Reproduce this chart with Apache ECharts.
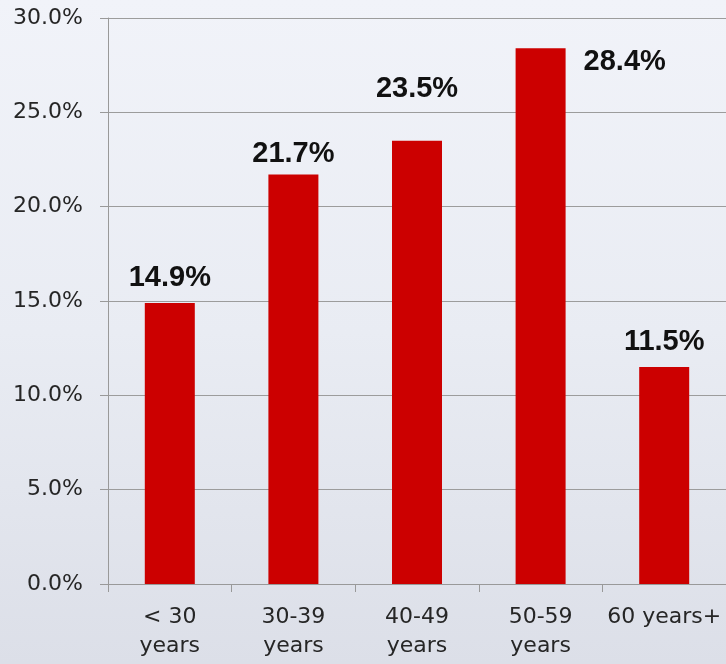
<!DOCTYPE html>
<html>
<head>
<meta charset="utf-8">
<script src="https://cdn.jsdelivr.net/npm/echarts@6/dist/echarts.min.js"></script>
<style>
html,body{margin:0;padding:0;}
#c{width:726px;height:664px;background:linear-gradient(to bottom,#f1f3f9 0%,#e9ecf3 50%,#dcdfe8 100%);}
</style>
</head>
<body>
<div id="c"></div>
<script>
var categories = ['< 30\nyears', '30-39\nyears', '40-49\nyears', '50-59\nyears', '60 years+'];
var values = [14.9, 21.7, 23.5, 28.4, 11.5];
var yTicks = { min: 0, max: 30, interval: 5 };

// label placement per bar (styling only)
var labelPlacement = [
  { position: ['50%', -25], align: 'center' },
  { position: ['50%', -21], align: 'center' },
  { position: ['50%', -52], align: 'center' },
  { position: [68, 14], align: 'left' },
  { position: ['50%', -25], align: 'center' }
];

var chart = echarts.init(document.getElementById('c'), null, { renderer: 'canvas' });
var seriesData = values.map(function (v, i) {
  return {
    value: v,
    label: {
      show: true,
      position: labelPlacement[i].position,
      align: labelPlacement[i].align,
      verticalAlign: 'middle'
    }
  };
});

chart.setOption({
  backgroundColor: 'transparent',
  animation: false,
  grid: { left: 108, right: 0, top: 18, bottom: 80, containLabel: false },
  xAxis: {
    type: 'category',
    data: categories,
    axisLine: { lineStyle: { color: '#999999', width: 1 } },
    axisTick: { show: true, length: 8, lineStyle: { color: '#999999' } },
    axisLabel: {
      color: '#262626',
      fontFamily: 'DejaVu Sans',
      fontSize: 22,
      lineHeight: 29,
      margin: 19,
      interval: 0
    }
  },
  yAxis: {
    type: 'value',
    min: yTicks.min,
    max: yTicks.max,
    interval: yTicks.interval,
    axisLine: { show: true, lineStyle: { color: '#999999', width: 1 } },
    axisTick: { show: true, length: 8, lineStyle: { color: '#999999' } },
    splitLine: { show: true, lineStyle: { color: '#9c9c9c', width: 1 } },
    axisLabel: {
      color: '#262626',
      fontFamily: 'DejaVu Sans',
      fontSize: 22,
      margin: 25,
      formatter: function (v) { return v.toFixed(1) + '%'; }
    }
  },
  series: [{
    type: 'bar',
    data: seriesData,
    barWidth: 50,
    itemStyle: { color: '#cc0000' },
    label: {
      show: true,
      color: '#111111',
      fontFamily: 'Liberation Sans',
      fontWeight: 'bold',
      fontSize: 29,
      formatter: function (p) { return p.value.toFixed(1) + '%'; }
    }
  }]
});
</script>
</body>
</html>
